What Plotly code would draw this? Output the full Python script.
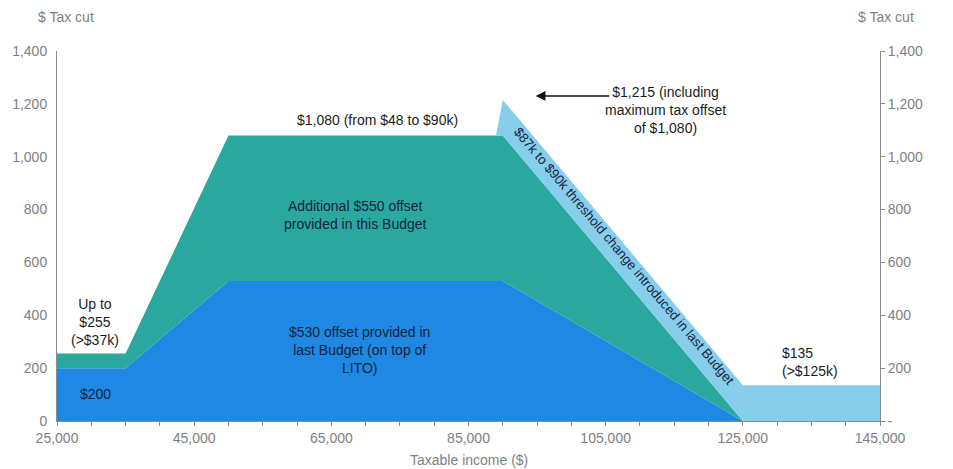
import plotly.graph_objects as go

# Taxable income breakpoints ($)
income = [25000, 35000, 50000, 89000, 90000, 125000, 145000]
# Offset from last Budget, on top of LITO ($)
last_budget_offset = [200, 200, 530, 530, 530, 0, 0]
# Additional offset provided in this Budget ($)
additional_offset = [55, 55, 550, 550, 550, 0, 0]
# $87k to $90k threshold change from last Budget ($)
threshold_change = [0, 0, 0, 0, 135, 135, 135]

y_ticks = [0, 200, 400, 600, 800, 1000, 1200, 1400]
y_left_labels = ["0", "200", "400", "600", "800", "1,000", "1,200", "1,400"]
y_right_labels = ["-", "200", "400", "600", "800", "1,000", "1,200", "1,400"]
x_ticks = list(range(25000, 145001, 5000))
x_labels = [f"{v:,}" if (v - 25000) % 20000 == 0 else "" for v in x_ticks]

FONT = "Liberation Sans, Arial, sans-serif"
GREY = "#7f7f7f"
AXIS = "#8c8c8c"
DARK = "#1b1b1b"
NAVY = "#14233f"

fig = go.Figure()
for name, vals, col in [
    ("$530 offset (last Budget)", last_budget_offset, "#1e88e2"),
    ("Additional $550 offset", additional_offset, "#2aa8a0"),
    ("Threshold change", threshold_change, "#87cdec"),
]:
    fig.add_trace(go.Scatter(
        x=income, y=vals, name=name, mode="lines", stackgroup="one",
        line=dict(width=0, color=col), fillcolor=col, hoverinfo="x+y",
    ))

# carrier for the right-hand axis
fig.add_trace(go.Scatter(x=[income[0]], y=[0], yaxis="y2", mode="markers",
                         marker=dict(opacity=0), showlegend=False, hoverinfo="skip"))

fig.update_layout(
    width=953, height=469,
    margin=dict(l=55, r=73, t=51, b=48),
    paper_bgcolor="white", plot_bgcolor="white",
    showlegend=False,
    font=dict(family=FONT, size=14, color=GREY),
    xaxis=dict(
        range=[25000, 145000], tickvals=x_ticks, ticktext=x_labels,
        showgrid=False, zeroline=False, showline=True, linecolor=AXIS, linewidth=1,
        ticks="outside", ticklen=4, tickcolor=AXIS,
        tickfont=dict(family=FONT, size=14, color=GREY),
    ),
    yaxis=dict(
        range=[0, 1400], tickvals=y_ticks, ticktext=y_left_labels,
        showgrid=False, zeroline=False, showline=True, linecolor=AXIS, linewidth=1,
        ticks="", ticklabelstandoff=6,
        tickfont=dict(family=FONT, size=14, color=GREY),
    ),
    yaxis2=dict(
        range=[0, 1400], overlaying="y", side="right",
        tickvals=y_ticks, ticktext=y_right_labels,
        showgrid=False, zeroline=False, showline=True, linecolor=AXIS, linewidth=1,
        ticks="outside", ticklen=4, tickcolor=AXIS,
        tickfont=dict(family=FONT, size=14, color=GREY),
    ),
)

def note(text, x, y, color=DARK, size=14, **kw):
    fig.add_annotation(text=text, x=x, y=y, xref="x", yref="y", showarrow=False,
                       font=dict(family=FONT, size=size, color=color), **kw)

note("Up to<br>$255<br>(>$37k)", 30500, 375)
note("$200", 30650, 102, color=NAVY)
note("$1,080 (from $48 to $90k)", 71800, 1139)
note("Additional $550 offset<br>provided in this Budget", 68560, 779, color=NAVY)
note("$530 offset provided in<br>last Budget (on top of<br>LITO)", 69170, 269, color=NAVY)
note("$1,215 (including<br>maximum tax offset<br>of $1,080)", 113700, 1177)
note("$135<br>(>$125k)", 130450, 223, xanchor="left", align="left")
note("$87k to $90k threshold change introduced in last Budget", 107600, 625,
     color=NAVY, size=13.3, textangle=49.7)

# arrow pointing at the $1,215 peak
fig.add_annotation(x=94800, y=1230, xref="x", yref="y", text="", showarrow=True,
                   ax=75, ay=0, arrowhead=2, arrowsize=1.3, arrowwidth=1.5,
                   arrowcolor="#111111")

# "$ Tax cut" headers above both value axes (paper x relative to plot area)
for txt, px in [("$ Tax cut", 64), ("$ Tax cut", 886)]:
    fig.add_annotation(text=txt, x=(px - 55) / 825, y=(421 - 17) / 370,
                       xref="paper", yref="paper",
                       xanchor="center", yanchor="middle", showarrow=False,
                       font=dict(family=FONT, size=14, color=GREY))

fig.add_annotation(text="Taxable income ($)", x=0.5, y=(421 - 460) / 370,
                   xref="paper", yref="paper", showarrow=False,
                   xanchor="center", yanchor="middle",
                   font=dict(family=FONT, size=14, color=GREY))

fig.write_html("out.html")
